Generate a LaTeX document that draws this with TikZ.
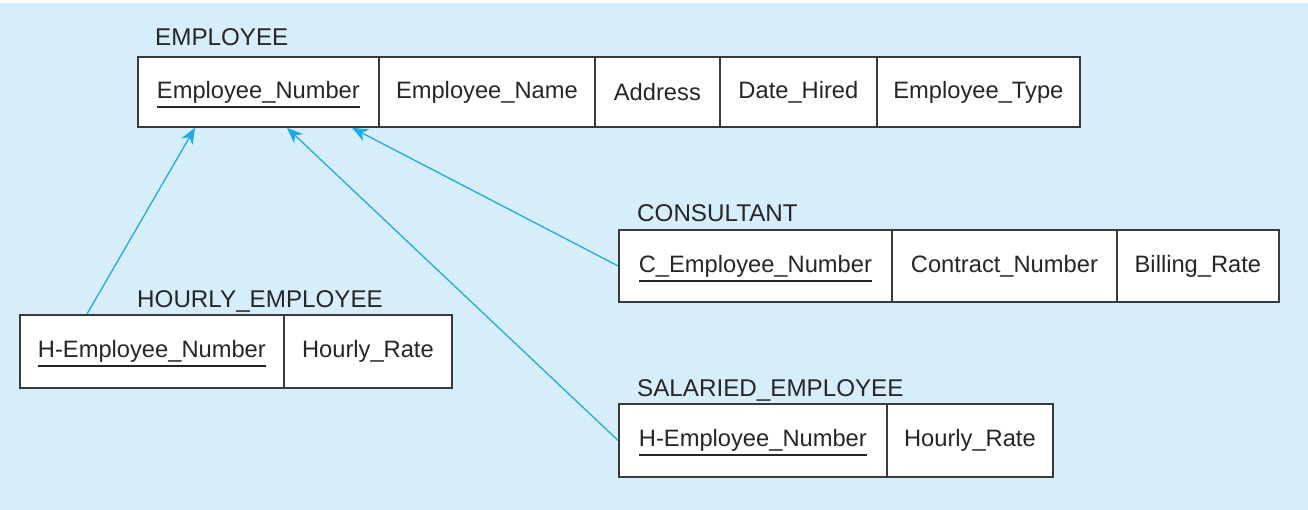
\documentclass[tikz,border=0pt]{standalone}
\usepackage{fontspec}
\setmainfont{Liberation Sans}
\usetikzlibrary{arrows.meta}
\definecolor{bgblue}{HTML}{D6EEFA}
\definecolor{linkblue}{HTML}{1EAAE6}
\definecolor{boxline}{HTML}{3A3A3A}
\definecolor{txt}{HTML}{262626}
\newcommand\keyul[1]{\leavevmode\setbox0\hbox{#1}\rlap{\smash{\raisebox{-9.5pt}{\color{txt}\rule{\wd0}{1.8pt}}}}\box0}
\tikzset{
  cell/.style={draw=boxline, line width=1.8pt, fill=white, inner sep=0pt, text=txt,
    font=\fontsize{23.7}{27}\selectfont, anchor=north west},
  tabname/.style={anchor=base west, inner sep=0pt, text=txt, font=\fontsize{24.2}{28}\selectfont},
  link/.style={draw=linkblue, line width=1.3pt, -{Stealth[length=16pt,width=13pt,inset=5pt]}}
}
\begin{document}
\begin{tikzpicture}[x=1pt,y=-1pt]
\useasboundingbox (0,0) rectangle (1308,510);
\fill[bgblue] (0,0) rectangle (1308,510);
\fill[white] (0,0) rectangle (1308,3);
% EMPLOYEE
\node[tabname] (lemp) at (155,46) {EMPLOYEE};
\node[cell, minimum width=241pt, minimum height=70pt] (e1) at (137,56) {\keyul{Employee\_Number}};
\node[cell, minimum width=216pt, minimum height=70pt] (e2) at (378,56) {Employee\_Name};
\node[cell, minimum width=125pt, minimum height=70pt] (e3) at (594,56) {Address};
\node[cell, minimum width=157pt, minimum height=70pt] (e4) at (719,56) {Date\_Hired};
\node[cell, minimum width=203pt, minimum height=70pt] (e5) at (876,56) {Employee\_Type};
% CONSULTANT
\node[tabname] (lcon) at (637,222) {CONSULTANT};
\node[cell, minimum width=273pt, minimum height=72pt] (c1) at (618,229) {\keyul{C\_Employee\_Number}};
\node[cell, minimum width=225pt, minimum height=72pt] (c2) at (891,229) {Contract\_Number};
\node[cell, minimum width=162pt, minimum height=72pt] (c3) at (1116,229) {Billing\_Rate};
% HOURLY_EMPLOYEE
\node[tabname] (lhour) at (137,308) {HOURLY\_EMPLOYEE};
\node[cell, minimum width=264pt, minimum height=73pt] (h1) at (19,314) {\keyul{H-Employee\_Number}};
\node[cell, minimum width=168pt, minimum height=73pt] (h2) at (283,314) {Hourly\_Rate};
% SALARIED_EMPLOYEE
\node[tabname] (lsal) at (637,396) {SALARIED\_EMPLOYEE};
\node[cell, minimum width=268pt, minimum height=73pt] (s1) at (618,403) {\keyul{H-Employee\_Number}};
\node[cell, minimum width=166pt, minimum height=73pt] (s2) at (886,403) {Hourly\_Rate};
% connectors
\draw[link] ([xshift=68pt]h1.north west) -- ([xshift=58pt]e1.south west);
\draw[link] (s1.west) -- ([xshift=150pt]e1.south west);
\draw[link] (c1.west) -- ([xshift=215pt]e1.south west);
\end{tikzpicture}
\end{document}
